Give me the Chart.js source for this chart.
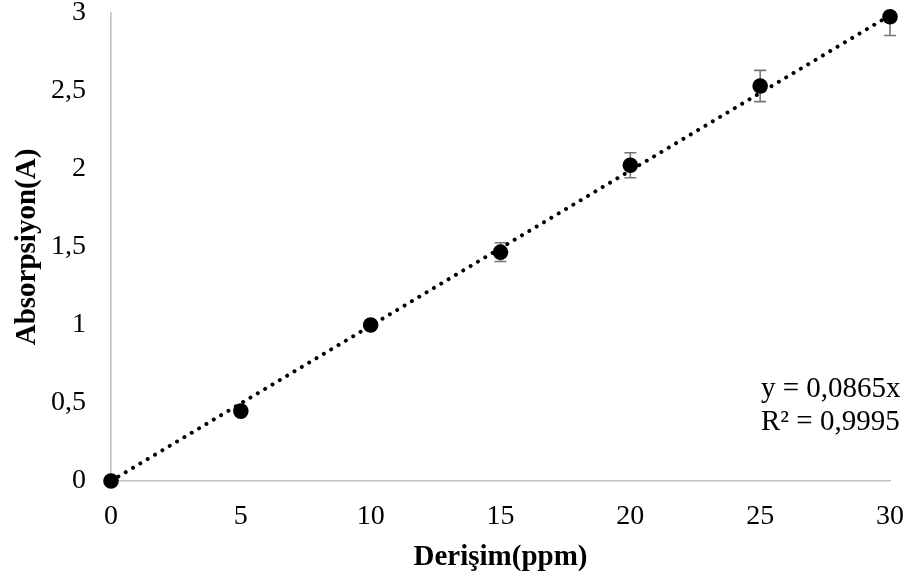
<!DOCTYPE html>
<html>
<head>
<meta charset="utf-8">
<script src="https://cdn.jsdelivr.net/npm/chart.js@4/dist/chart.umd.min.js"></script>
<style>
  html, body { margin: 0; padding: 0; background: #ffffff; }
  #wrap { width: 912px; height: 585px; }
</style>
</head>
<body>
<div id="wrap"><canvas id="c" width="912" height="585"></canvas></div>
<script>
// ---- data ----
const concentrations = [0, 5, 10, 15, 20, 25, 30];
const absorbances    = [0, 0.448, 1.0, 1.467, 2.024, 2.532, 2.976];
const errors         = [0, 0.02, 0.02, 0.06, 0.08, 0.1, 0.12];
const trendX = [0, 30];
const trendY = [0, 2.985];
const xTicks = [0, 5, 10, 15, 20, 25, 30];
const yTicks = [0, 0.5, 1, 1.5, 2, 2.5, 3];
const xTitle = 'Derişim(ppm)';
const yTitle = 'Absorpsiyon(A)';
const equationLines = ['y = 0,0865x', 'R² = 0,9995'];

const FONT = "'Liberation Serif', 'Times New Roman', serif";

const pointData = concentrations.map((x, i) => ({ x: x, y: absorbances[i] }));
const trendData = trendX.map((x, i) => ({ x: x, y: trendY[i] }));

const errorBarPlugin = {
  id: 'errorBars',
  beforeDatasetsDraw(chart) {
    const ctx = chart.ctx;
    const xs = chart.scales.x, ys = chart.scales.y;
    const area = chart.chartArea;
    ctx.save();
    ctx.beginPath();
    ctx.rect(area.left - 10, area.top, area.right - area.left + 20, area.bottom - area.top);
    ctx.clip();
    ctx.strokeStyle = '#767676';
    ctx.lineWidth = 1.6;
    concentrations.forEach((x, i) => {
      const e = errors[i];
      if (!e) return;
      const px = xs.getPixelForValue(x);
      const yHi = ys.getPixelForValue(absorbances[i] + e);
      const yLo = ys.getPixelForValue(absorbances[i] - e);
      const cap = 6;
      ctx.beginPath();
      ctx.moveTo(px, yHi); ctx.lineTo(px, yLo);
      ctx.moveTo(px - cap, yHi); ctx.lineTo(px + cap, yHi);
      ctx.moveTo(px - cap, yLo); ctx.lineTo(px + cap, yLo);
      ctx.stroke();
    });
    ctx.restore();
  }
};

const equationPlugin = {
  id: 'equation',
  afterDraw(chart) {
    const ctx = chart.ctx;
    ctx.save();
    ctx.fillStyle = '#000';
    ctx.font = '29px ' + FONT;
    ctx.textAlign = 'left';
    ctx.textBaseline = 'alphabetic';
    ctx.fillText(equationLines[0], 761, 397);
    ctx.fillText(equationLines[1], 761, 429.5);
    ctx.restore();
  }
};

new Chart(document.getElementById('c'), {
  type: 'scatter',
  data: {
    datasets: [
      {
        label: 'Absorpsiyon',
        data: pointData,
        backgroundColor: '#000',
        borderColor: '#000',
        borderWidth: 0,
        pointRadius: 7.8,
        pointHoverRadius: 7.8,
        clip: false,
        order: 0
      },
      {
        type: 'line',
        label: 'Trend',
        data: trendData,
        borderColor: '#000',
        borderWidth: 4,
        borderDash: [0.01, 8.54],
        borderCapStyle: 'round',
        pointRadius: 0,
        fill: false,
        tension: 0,
        order: 1
      }
    ]
  },
  options: {
    responsive: false,
    devicePixelRatio: 1,
    animation: false,
    events: [],
    layout: { padding: { left: 0, top: 13, right: 22, bottom: 0 } },
    plugins: {
      legend: { display: false },
      tooltip: { enabled: false }
    },
    scales: {
      x: {
        type: 'linear',
        min: 0, max: 30,
        afterBuildTicks(scale) { scale.ticks = xTicks.map(v => ({ value: v })); },
        afterFit(scale) { scale.height = 104; scale.paddingLeft = 0; scale.paddingRight = 0; },
        grid: { display: false, drawTicks: false },
        border: { display: true, color: '#c0c0c0', width: 1.6 },
        ticks: {
          color: '#000',
          font: { family: FONT, size: 28 },
          padding: 19,
          maxRotation: 0,
          callback: v => String(v)
        },
        title: {
          display: true,
          text: xTitle,
          color: '#000',
          font: { family: FONT, size: 29, weight: 'bold' },
          padding: { top: 10, bottom: 10 }
        }
      },
      y: {
        type: 'linear',
        min: 0, max: 3,
        afterBuildTicks(scale) { scale.ticks = yTicks.map(v => ({ value: v })); },
        afterFit(scale) { scale.width = 111; scale.paddingTop = 0; scale.paddingBottom = 0; },
        grid: { display: false, drawTicks: false },
        border: { display: true, color: '#c0c0c0', width: 1.6 },
        ticks: {
          color: '#000',
          font: { family: FONT, size: 28 },
          padding: 25,
          callback: v => String(v).replace('.', ',')
        },
        title: {
          display: true,
          text: yTitle,
          color: '#000',
          font: { family: FONT, size: 29, weight: 'bold' },
          padding: { top: 10, bottom: 10 }
        }
      }
    }
  },
  plugins: [errorBarPlugin, equationPlugin]
});
</script>
</body>
</html>
